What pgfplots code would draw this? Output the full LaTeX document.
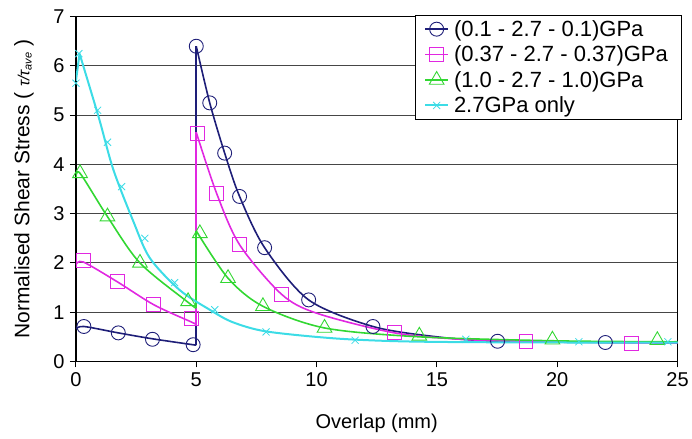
\documentclass[border=0pt]{standalone}
\usepackage{fontspec}
\setmainfont{Liberation Sans}
\usepackage{pgfplots}
\pgfplotsset{compat=1.18}
\definecolor{cNavy}{RGB}{30,30,120}
\definecolor{cMag}{RGB}{225,40,225}
\definecolor{cGreen}{RGB}{50,215,50}
\definecolor{cCyan}{RGB}{60,220,230}
\begin{document}
\begin{tikzpicture}
\begin{axis}[name=ax, scale only axis, width=602pt, height=345pt,
 xmin=0, xmax=25, ymin=0, ymax=7,
 xtick={0,5,...,25}, ytick={0,1,...,7},
 tick align=outside, xtick pos=bottom, ytick pos=left,
 major tick length=6pt,
 tick style={black, line width=1pt},
 axis line style={black, line width=1.4pt},
 ymajorgrids, grid style={gray!55!black, line width=1pt},
 font=\fontsize{20}{23}\selectfont,
 /pgf/number format/assume math mode=true,
 xticklabel style={yshift=-2pt},
 yticklabel style={xshift=-2pt},
 xlabel={Overlap (mm)},
 xlabel style={at={(axis description cs:0.5,-0.18)}, anchor=center},
 ylabel={\fontsize{21}{24}\selectfont Normalised Shear Stress ( {\fontsize{16}{16}\selectfont\itshape τ/τ\raisebox{-0.25ex}{\fontsize{11}{11}\selectfont ave}} )},
 ylabel style={at={(axis description cs:-0.0864,0.5)}, anchor=center, rotate=0},
 legend cell align=left,
 legend style={at={(rel axis cs:1.008,1.005)}, anchor=north east, draw=black, line width=1pt, fill=white,
   font=\fontsize{22}{25}\selectfont, inner xsep=9pt, inner ysep=3pt, row sep=4pt,
   nodes={inner xsep=5pt}},
 legend image code/.code={\draw[mark repeat=2,mark phase=2] plot coordinates {(0cm,0cm)(0.4cm,0cm)(0.8cm,0cm)};},
]
% ---- (0.1 - 2.7 - 0.1) navy circles
\addplot[cNavy, line width=1.6pt, smooth, forget plot] coordinates {(0,0.66)(0.33,0.71)(1.76,0.58)(3.18,0.46)(5,0.33)};
\addplot[cNavy, line width=1.6pt, forget plot] coordinates {(5,0.33)(5,6.4)};
\addplot[cNavy, line width=1.6pt, smooth, forget plot] coordinates {(5,6.4)(5.56,5.25)(6.18,4.23)(6.8,3.35)(7.84,2.31)(9.67,1.25)(12.34,0.71)(15,0.5)(17.5,0.41)(22,0.385)(25,0.38)};
\addplot[cNavy, only marks, mark=o, mark size=7pt, mark options={line width=0.9pt}, forget plot] coordinates {(0.33,0.71)(1.76,0.58)(3.18,0.45)(4.87,0.34)(5,6.4)(5.56,5.25)(6.18,4.23)(6.8,3.35)(7.84,2.31)(9.67,1.25)(12.34,0.71)(17.52,0.41)(22,0.385)};
% ---- (0.37 - 2.7 - 0.37) magenta squares
\addplot[cMag, line width=1.6pt, smooth, forget plot] coordinates {(0,1.96)(0.3,2.02)(1.71,1.62)(3.24,1.15)(4.8,0.8)(5,0.75)};
\addplot[cMag, line width=1.6pt, forget plot] coordinates {(5,0.75)(5,4.65)};
\addplot[cMag, line width=1.6pt, smooth, forget plot] coordinates {(5,4.65)(5.84,3.42)(6.8,2.37)(8.53,1.37)(10,0.98)(13.24,0.58)(16,0.45)(18.7,0.41)(23.1,0.38)(25,0.38)};
\addplot[cMag, only marks, mark=square, mark size=7pt, mark options={line width=0.9pt}, forget plot] coordinates {(0.3,2.06)(1.71,1.62)(3.24,1.15)(4.8,0.88)(5.05,4.62)(5.84,3.42)(6.8,2.37)(8.53,1.37)(13.24,0.58)(18.7,0.41)(23.1,0.37)};
% ---- (1.0 - 2.7 - 1.0) green triangles
\addplot[cGreen, line width=1.6pt, smooth, forget plot] coordinates {(0,3.72)(0.17,3.82)(1.31,2.94)(2.66,2.0)(4.66,1.2)(5,1.08)};
\addplot[cGreen, line width=1.6pt, forget plot] coordinates {(5,1.08)(5,2.65)};
\addplot[cGreen, line width=1.6pt, smooth, forget plot] coordinates {(5,2.65)(6.32,1.69)(7.77,1.12)(10.33,0.68)(14.27,0.5)(19.8,0.42)(24.16,0.4)(25,0.4)};
\addplot[cGreen, only marks, mark=triangle, mark size=8.5pt, mark options={line width=0.9pt}, forget plot] coordinates {(0.17,3.82)(1.31,2.94)(2.66,2.0)(4.66,1.22)(5.15,2.6)(6.32,1.69)(7.77,1.12)(10.33,0.68)(14.27,0.52)(19.8,0.44)(24.16,0.43)};
% ---- 2.7GPa only cyan crosses
\addplot[cCyan, line width=2pt, forget plot] coordinates {(0,5.7)(0.15,6.25)};
\addplot[cCyan, line width=2pt, smooth, forget plot] coordinates {(0.15,6.25)(0.95,4.95)(1.55,3.9)(2.38,2.85)(3.07,2.1)(4.31,1.45)(5.56,1.05)(6.5,0.8)(7.9,0.61)(10.7,0.47)(13.4,0.41)(17,0.39)(25,0.38)};
\addplot[cCyan, only marks, mark=x, mark size=5pt, mark options={line width=0.8pt}, forget plot] coordinates {(0,5.65)(0.12,6.25)(0.9,5.1)(1.31,4.45)(1.9,3.55)(2.86,2.5)(4.1,1.6)(5.77,1.05)(7.9,0.6)(11.6,0.43)(16.2,0.45)(20.9,0.4)(24.6,0.4)};
% ---- legend
\addlegendimage{cNavy, line width=1.6pt, mark=o, mark size=7pt, mark options={line width=0.9pt}}
\addlegendentry{(0.1 - 2.7 - 0.1)GPa}
\addlegendimage{cMag, line width=1.6pt, mark=square, mark size=7pt, mark options={line width=0.9pt}}
\addlegendentry{(0.37 - 2.7 - 0.37)GPa}
\addlegendimage{cGreen, line width=1.6pt, mark=triangle, mark size=8.5pt, mark options={line width=0.9pt}}
\addlegendentry{(1.0 - 2.7 - 1.0)GPa}
\addlegendimage{cCyan, line width=2pt, mark=x, mark size=5pt, mark options={line width=0.8pt}}
\addlegendentry{2.7GPa only}
\end{axis}
\path ([xshift=-76pt,yshift=-77.3pt]ax.south west) rectangle ([xshift=14pt,yshift=16.7pt]ax.north east);
\end{tikzpicture}
\end{document}
